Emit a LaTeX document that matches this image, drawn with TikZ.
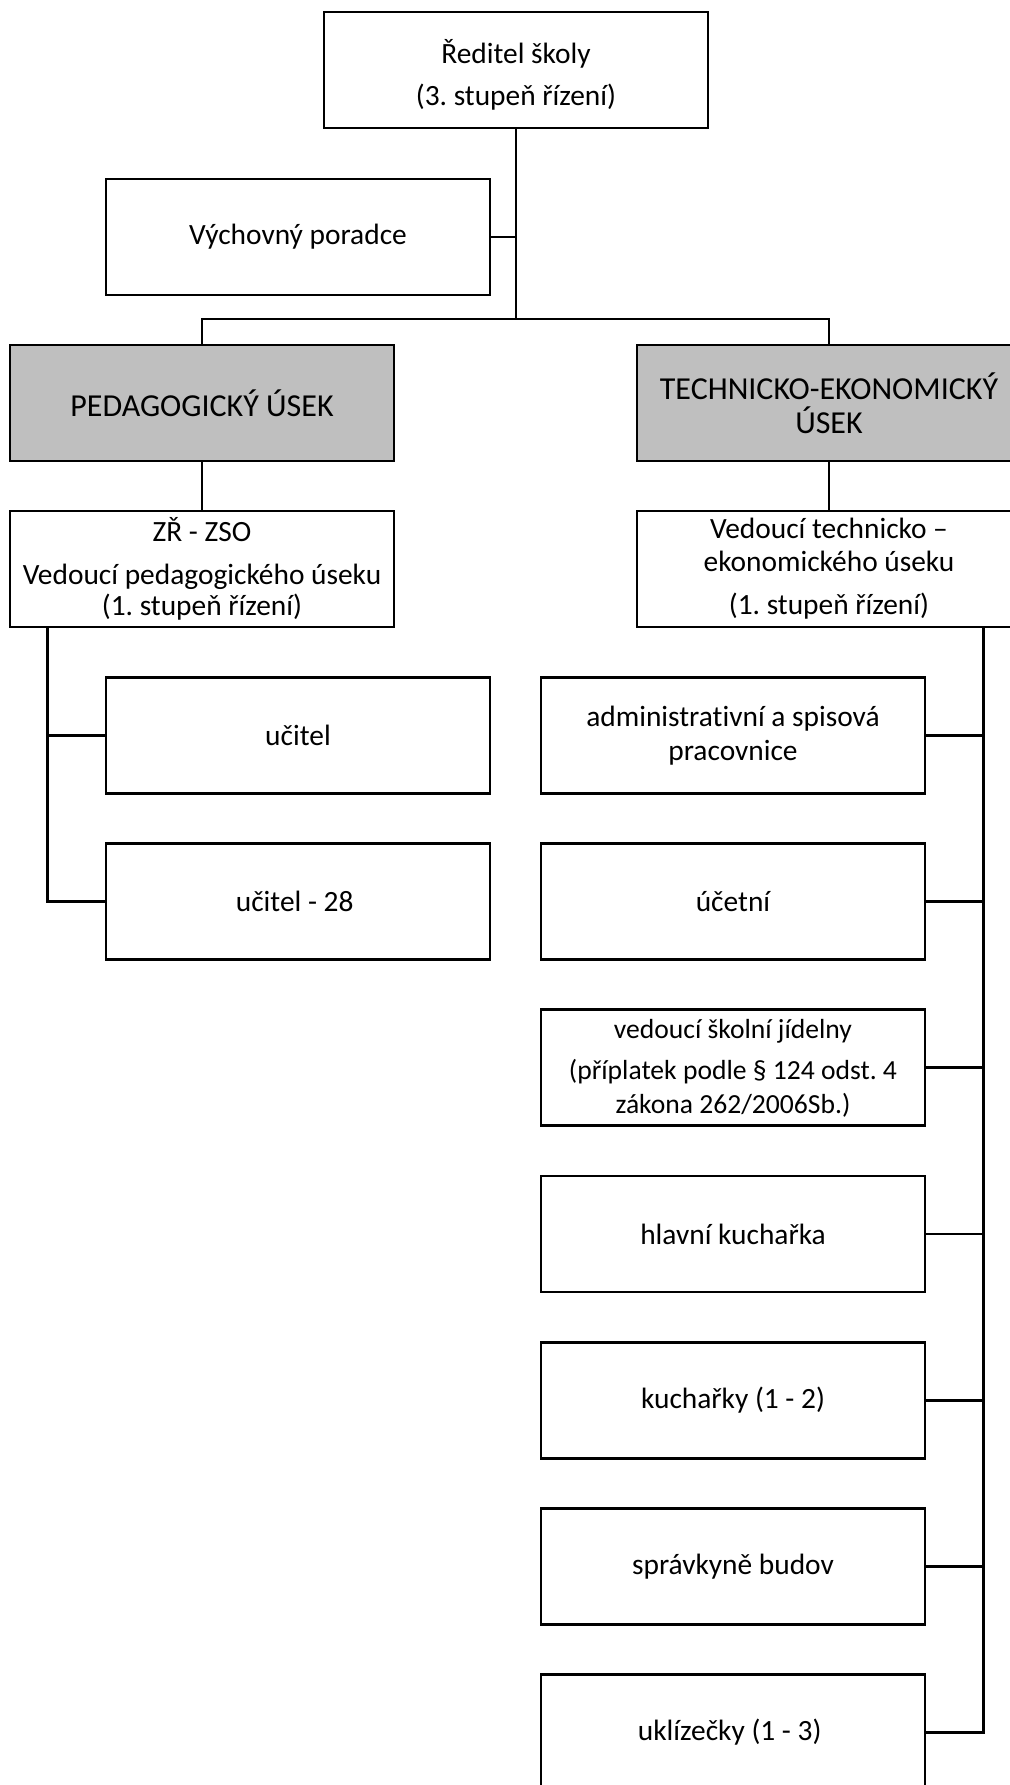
\documentclass[tikz,border=0pt]{standalone}
\usepackage{fontspec}
\setmainfont{Carlito}[Ligatures=NoCommon]
\frenchspacing
\begin{document}
\begin{tikzpicture}[x=0.5pt, y=-0.5pt,
    box/.style={draw=black, line width=1.45pt, minimum width=192pt, minimum height=58pt,
        align=center, inner sep=2pt, font=\fontsize{14.7pt}{17pt}\selectfont},
    mensi/.style={box, font=\fontsize{13.8pt}{17pt}\selectfont},
    usek/.style={box, fill=black!25, font=\fontsize{16pt}{17pt}\selectfont},
    spoj/.style={draw=black, line width=1.45pt}]
    \useasboundingbox (0,0) rectangle (1010,1785);
    \pgfmathsetmacro{\levyx}{298}
    \pgfmathsetmacro{\pravyx}{733}
    \pgfmathsetmacro{\krok}{166.17}
    
    %% vedení a úseky
    \node[box] (reditel) at (516,70) {\rule{0pt}{17pt}Ředitel školy\\[4pt](3. stupeň řízení)};
    \node[box] (poradce) at (298,237) {Výchovný poradce};
    \node[usek] (pedUsek) at (202,403) {PEDAGOGICKÝ ÚSEK};
    \node[usek] (tekUsek) at (829,403) {TECHNICKO-EKONOMICKÝ\\ÚSEK};
    \node[box] (zrZso) at (202,569) {ZŘ - ZSO\\[4.3pt]Vedoucí pedagogického úseku\\[-1.3pt](1. stupeň řízení)};
    \node[box] (vedTek) at (829,569) {Vedoucí technicko –\\[-0.5pt]ekonomického úseku\\[4.5pt](1. stupeň řízení)};
    
    \coordinate (rozcesti) at (516,319);
    \draw[spoj] (reditel.south) -- (rozcesti);
    \draw[spoj] (poradce.east) -- (poradce.east -| rozcesti);
    \draw[spoj] (pedUsek.north) |- (rozcesti) -| (tekUsek.north);
    \draw[spoj] (pedUsek) -- (zrZso);
    \draw[spoj] (tekUsek) -- (vedTek);
    
    %% pedagogický úsek
    \coordinate (levaPater) at ([xshift=19.5pt]zrZso.south west);
    \foreach \n/\t [count=\i from 0] in 
    {ucitel/učitel,
        ucitelDva/učitel - 28
    }
    {
        \node[box] (\n) at (\levyx, 735.5+\i*\krok) {\t};
        \draw[spoj] (\n.west) -- (\n.west -| levaPater);
    };
    \draw[spoj] (levaPater) |- (ucitelDva.west);
    
    %% technicko-ekonomický úsek
    \coordinate (pravaPater) at ([xshift=-19.3pt]vedTek.south east);
    \foreach \n/\s/\t [count=\i from 0] in 
    {admin/box/{administrativní a spisová\\pracovnice},
        ucetni/box/účetní,
        jidelna/mensi/{vedoucí školní jídelny\\[3.5pt](příplatek podle § 124 odst. 4\\zákona 262/2006Sb.)},
        hlKucharka/box/hlavní kuchařka,
        kucharky/box/kuchařky (1 - 2),
        spravkyne/box/správkyně budov,
        uklizecky/box/uklízečky (1 - 3)
    }
    {
        \node[\s] (\n) at (\pravyx, 735.5+\i*\krok) {\t};
        \draw[spoj] (\n.east) -- (\n.east -| pravaPater);
    };
    \draw[spoj] (pravaPater) |- (uklizecky.east);
\end{tikzpicture}
\end{document}
